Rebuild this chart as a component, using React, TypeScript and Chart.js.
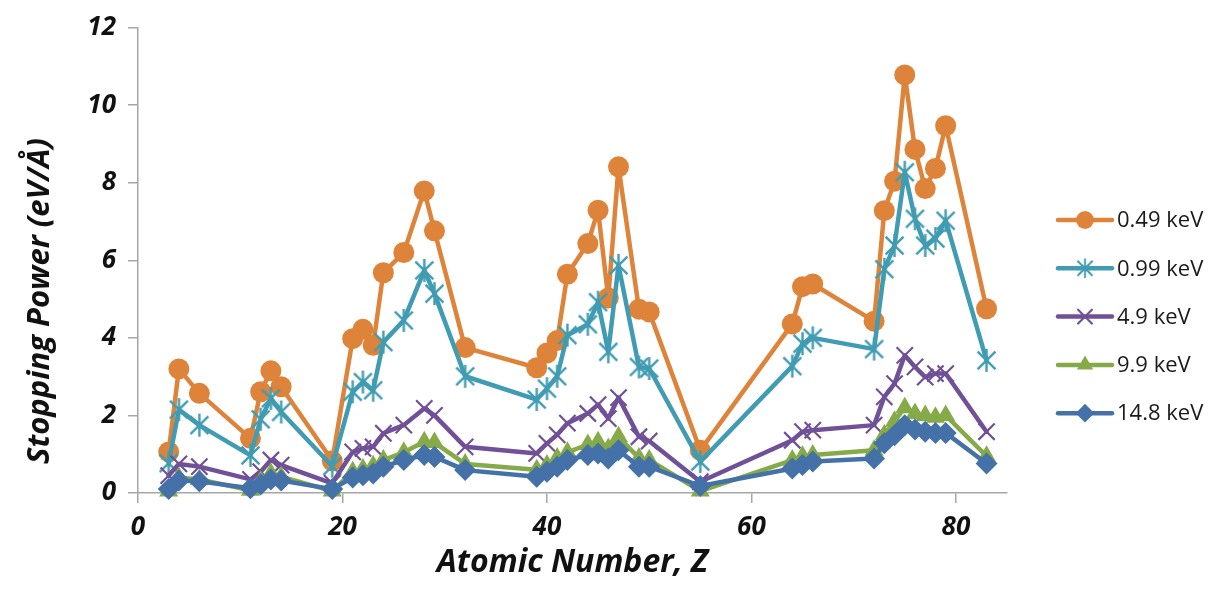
import React, { useEffect, useRef } from 'react';
import { Chart, registerables } from 'chart.js';

Chart.register(...registerables);

// ---- data ----
const atomicNumbers = [3, 4, 6, 11, 12, 13, 14, 19, 21, 22, 23, 24, 26, 28, 29, 32, 39, 40, 41, 42, 44, 45, 46, 47, 49, 50, 55, 64, 65, 66, 72, 73, 74, 75, 76, 77, 78, 79, 83];

const sp049keV = [1.06, 3.2, 2.57, 1.41, 2.61, 3.15, 2.74, 0.83, 3.98, 4.22, 3.81, 5.68, 6.2, 7.79, 6.76, 3.75, 3.23, 3.61, 3.93, 5.64, 6.43, 7.29, 5.03, 8.41, 4.74, 4.67, 1.1, 4.36, 5.32, 5.39, 4.43, 7.28, 8.04, 10.78, 8.86, 7.85, 8.37, 9.47, 4.75];
const sp099keV = [0.77, 2.15, 1.75, 0.97, 1.9, 2.44, 2.09, 0.69, 2.61, 2.86, 2.65, 3.89, 4.45, 5.74, 5.14, 3.01, 2.41, 2.69, 3.01, 4.07, 4.35, 4.92, 3.64, 5.87, 3.25, 3.21, 0.81, 3.27, 3.85, 4.0, 3.71, 5.77, 6.38, 8.27, 7.07, 6.38, 6.56, 7.02, 3.42];
const sp49keV = [0.45, 0.75, 0.68, 0.35, 0.55, 0.85, 0.72, 0.25, 1.06, 1.15, 1.19, 1.54, 1.75, 2.18, 2.0, 1.19, 1.02, 1.28, 1.5, 1.8, 2.05, 2.28, 1.92, 2.46, 1.45, 1.34, 0.29, 1.36, 1.58, 1.62, 1.75, 2.48, 2.82, 3.55, 3.25, 2.99, 3.08, 3.08, 1.58];
const sp99keV = [0.05, 0.4, 0.35, 0.07, 0.3, 0.5, 0.42, 0.05, 0.55, 0.62, 0.7, 0.85, 1.05, 1.32, 1.3, 0.75, 0.6, 0.72, 0.9, 1.05, 1.25, 1.32, 1.15, 1.45, 0.9, 0.85, 0.05, 0.85, 0.95, 0.98, 1.1, 1.5, 1.85, 2.2, 2.05, 2.0, 1.95, 2.0, 0.95];
const sp148keV = [0.1, 0.32, 0.3, 0.12, 0.22, 0.35, 0.32, 0.1, 0.4, 0.46, 0.5, 0.68, 0.85, 0.98, 0.93, 0.59, 0.42, 0.55, 0.68, 0.85, 0.98, 1.02, 0.89, 1.1, 0.68, 0.68, 0.18, 0.63, 0.72, 0.81, 0.89, 1.28, 1.49, 1.75, 1.64, 1.58, 1.55, 1.55, 0.76];

const seriesLabels = ['0.49 keV', '0.99 keV', '4.9 keV', '9.9 keV', '14.8 keV'];
const xTickValues = [0, 20, 40, 60, 80];
const yTickValues = [0, 2, 4, 6, 8, 10, 12];
const xAxisTitle = 'Atomic Number, Z';
const yAxisTitle = 'Stopping Power (eV/Å)';

// ---- styles ----
const COLORS = ['#DE843A', '#409CB2', '#705096', '#86AA48', '#4472A8'];
const FONT = '"Open Sans", "DejaVu Sans", sans-serif';
const W = 1212;
const H = 602;

function makeStar(color: string, size: number, lw: number): HTMLCanvasElement {
  const c = document.createElement('canvas');
  c.width = size;
  c.height = size;
  const g = c.getContext('2d')!;
  g.strokeStyle = color;
  g.lineWidth = lw;
  const cx = size / 2;
  const r = size / 2 - 1;
  g.beginPath();
  g.moveTo(cx, cx - r);
  g.lineTo(cx, cx + r);
  const d = r * 0.78;
  g.moveTo(cx - d, cx - d);
  g.lineTo(cx + d, cx + d);
  g.moveTo(cx - d, cx + d);
  g.lineTo(cx + d, cx - d);
  g.stroke();
  return c;
}

function drawMarker(ctx: CanvasRenderingContext2D, o: any, x: number, y: number) {
  const style = o.pointStyle;
  const r = o.radius;
  ctx.save();
  ctx.fillStyle = o.backgroundColor;
  ctx.strokeStyle = o.borderColor;
  ctx.lineWidth = o.borderWidth || 0;
  if (style instanceof HTMLCanvasElement) {
    const s = style.width * 0.85;
    ctx.drawImage(style, x - s / 2, y - s / 2, s, s);
  } else if (style === 'circle') {
    ctx.beginPath();
    ctx.arc(x, y, r, 0, Math.PI * 2);
    ctx.fill();
  } else if (style === 'crossRot') {
    const d = r * Math.SQRT1_2;
    ctx.beginPath();
    ctx.moveTo(x - d, y - d);
    ctx.lineTo(x + d, y + d);
    ctx.moveTo(x - d, y + d);
    ctx.lineTo(x + d, y - d);
    ctx.stroke();
  } else if (style === 'triangle') {
    ctx.beginPath();
    ctx.moveTo(x, y - r);
    ctx.lineTo(x + r * 0.866, y + r * 0.5);
    ctx.lineTo(x - r * 0.866, y + r * 0.5);
    ctx.closePath();
    ctx.fill();
  } else if (style === 'rectRot') {
    ctx.beginPath();
    ctx.moveTo(x, y - r);
    ctx.lineTo(x + r, y);
    ctx.lineTo(x, y + r);
    ctx.lineTo(x - r, y);
    ctx.closePath();
    ctx.fill();
  }
  ctx.restore();
}

export default function App() {
  const ref = useRef<HTMLCanvasElement | null>(null);

  useEffect(() => {
    document.body.style.margin = '0';
    const canvas = ref.current;
    if (!canvas) return;

    const star = makeStar(COLORS[1], 25, 2.4);
    const seriesValues = [sp049keV, sp099keV, sp49keV, sp99keV, sp148keV];
    const pointStyles: any[] = ['circle', star, 'crossRot', 'triangle', 'rectRot'];
    const pointRadii = [10.5, 12, 11.5, 11, 11];

    const datasets = seriesValues.map((vals, i) => ({
      label: seriesLabels[i],
      data: atomicNumbers.map((z, k) => ({ x: z, y: vals[k] })),
      borderColor: COLORS[i],
      backgroundColor: COLORS[i],
      borderWidth: 4.5,
      borderJoinStyle: 'round' as const,
      borderCapStyle: 'round' as const,
      pointStyle: pointStyles[i],
      pointRadius: pointRadii[i],
      pointBorderWidth: i === 2 ? 2.2 : 0,
      pointBorderColor: COLORS[i],
      pointBackgroundColor: COLORS[i],
      showLine: true,
      tension: 0,
      clip: false as any,
      order: 4 - i,
    }));

    const legendPlugin = {
      id: 'customLegend',
      afterDraw(chart: any) {
        const ctx = chart.ctx;
        const x0 = 1058;
        const x1 = 1112;
        chart.data.datasets.forEach((ds: any, i: number) => {
          const y = 220 + i * 48.3;
          ctx.save();
          ctx.strokeStyle = ds.borderColor;
          ctx.lineWidth = 4.5;
          ctx.lineCap = 'round';
          ctx.beginPath();
          ctx.moveTo(x0, y);
          ctx.lineTo(x1, y);
          ctx.stroke();
          const meta = chart.getDatasetMeta(i);
          const el = meta.data[0];
          if (el) {
            const opts = { ...el.options, radius: el.options.radius * 0.85 };
            drawMarker(ctx, opts, (x0 + x1) / 2, y);
          }
          ctx.fillStyle = '#1a1a1a';
          ctx.font = `22px ${FONT}`;
          ctx.textAlign = 'left';
          ctx.textBaseline = 'middle';
          ctx.fillText(ds.label, 1117, y + 1);
          ctx.restore();
        });

        // y axis title
        ctx.save();
        ctx.translate(40, 301);
        ctx.rotate(-Math.PI / 2);
        ctx.fillStyle = '#111';
        ctx.font = `italic bold 31px ${FONT}`;
        ctx.textAlign = 'center';
        ctx.textBaseline = 'middle';
        ctx.fillText(yAxisTitle, 0, 0);
        ctx.restore();
      },
    };

    const tickFont = { family: FONT, size: 26, style: 'italic' as const, weight: 'bold' as const };

    const chart = new Chart(canvas, {
      type: 'scatter',
      data: { datasets: datasets as any },
      options: {
        responsive: false,
        animation: false,
        devicePixelRatio: 1,
        layout: { padding: { top: 27, right: W - 1007, bottom: 0, left: 0 } },
        plugins: { legend: { display: false }, tooltip: { enabled: false } },
        scales: {
          x: {
            type: 'linear',
            min: 0,
            max: 85,
            afterBuildTicks: (scale: any) => {
              scale.ticks = xTickValues.map((v) => ({ value: v }));
            },
            afterFit: (scale: any) => {
              scale.height = H - 493;
            },
            ticks: { font: tickFont, color: '#111', padding: 9, maxRotation: 0, includeBounds: false },
            grid: { drawOnChartArea: false, drawTicks: true, tickLength: 10, color: '#A6A6A6', lineWidth: 1.5 },
            border: { display: true, color: '#A6A6A6', width: 1.5 },
            title: {
              display: true,
              text: xAxisTitle,
              font: { family: FONT, size: 32, style: 'italic', weight: 'bold' },
              color: '#111',
              padding: { top: 10, bottom: 20 },
            },
          },
          y: {
            type: 'linear',
            min: 0,
            max: 12,
            afterBuildTicks: (scale: any) => {
              scale.ticks = yTickValues.map((v) => ({ value: v }));
            },
            afterFit: (scale: any) => {
              scale.width = 138;
            },
            ticks: { font: tickFont, color: '#111', padding: 12 },
            grid: { drawOnChartArea: false, drawTicks: true, tickLength: 10, color: '#A6A6A6', lineWidth: 1.5 },
            border: { display: true, color: '#A6A6A6', width: 1.5 },
          },
        },
      },
      plugins: [legendPlugin],
    });

    return () => chart.destroy();
  }, []);

  return (
    <div style={{ width: W, height: H, background: '#fff' }}>
      <canvas ref={ref} width={W} height={H} style={{ display: 'block' }} />
    </div>
  );
}
